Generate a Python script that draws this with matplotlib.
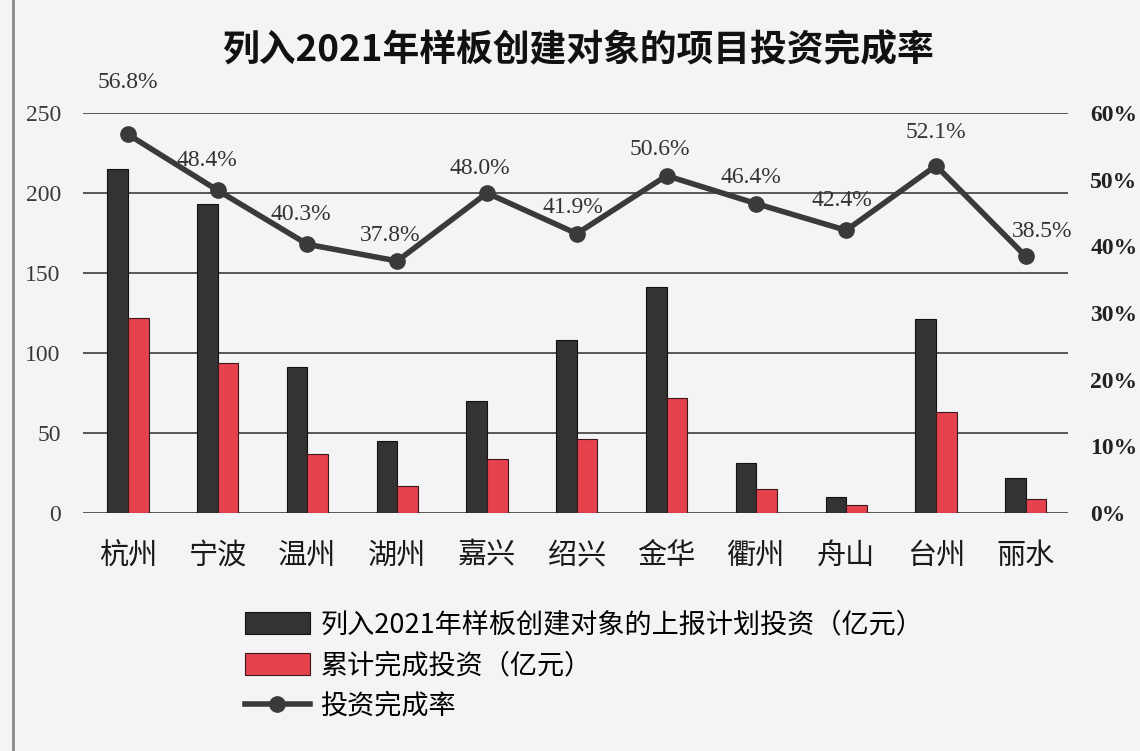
import numpy as np
import matplotlib.pyplot as plt
from matplotlib.ticker import FuncFormatter

# ============================================================
# Data
# ============================================================
cities = ["杭州", "宁波", "温州", "湖州", "嘉兴", "绍兴", "金华", "衢州", "舟山", "台州", "丽水"]
planned = [215, 193, 91, 45, 70, 108, 141, 31, 10, 121, 22]
completed = [122, 94, 37, 17, 34, 46, 72, 15, 5, 63, 9]
rate = [56.8, 48.4, 40.3, 37.8, 48.0, 41.9, 50.6, 46.4, 42.4, 52.1, 38.5]

# label offsets (points) for the rate annotations
label_offsets = [(0, 30), (-8, 14), (-5, 14), (-5, 11), (-5, 10), (-3, 11), (-5, 11), (-4, 11), (-3, 14), (0, 16), (12, 10)]

# ============================================================
# Style
# ============================================================
CJK = ["Noto Sans CJK SC", "DejaVu Sans"]
SERIF = ["Liberation Serif", "DejaVu Serif"]
BG = "#f4f4f6"
DARK = "#333333"
RED = "#e5424e"
GRID = "#4d4a48"

plt.rcParams["font.family"] = CJK

fig = plt.figure(figsize=(11.4, 7.51), dpi=100, facecolor=BG)
ax = fig.add_axes([0.0728, 0.317, 0.864, 0.5325])
ax.set_facecolor(BG)

x = np.arange(len(cities))
w = 0.23
ax.bar(x - w / 2, planned, w, color=DARK, edgecolor="#111111", linewidth=0.8,
       label="列入2021年样板创建对象的上报计划投资（亿元）", zorder=3)
ax.bar(x + w / 2, completed, w, color=RED, edgecolor="#3a1a1a", linewidth=0.8,
       label="累计完成投资（亿元）", zorder=3)

ax.set_ylim(0, 250)
ax.set_yticks(range(0, 251, 50))
ax.set_xlim(-0.5, 10.47)
ax.set_xticks(x)
ax.set_xticklabels(cities, fontsize=21, family=CJK, color="#1a1a1a")
ax.tick_params(axis="x", length=0, pad=20)
ax.tick_params(axis="y", length=0, pad=16)
for t in ax.get_yticklabels():
    t.set_family(SERIF)
    t.set_fontsize(17)
    t.set_color("#3a3a3a")
ax.grid(axis="y", color=GRID, linewidth=1.3, zorder=0)
for s in ax.spines.values():
    s.set_visible(False)

ax2 = ax.twinx()
ax2.set_ylim(0, 60)
ax2.set_yticks(range(0, 61, 10))
ax2.yaxis.set_major_formatter(FuncFormatter(lambda v, p: f"{v:.0f}%"))
ax2.tick_params(axis="y", length=0, pad=16)
for t in ax2.get_yticklabels():
    t.set_family(SERIF)
    t.set_fontsize(17)
    t.set_fontweight("bold")
    t.set_color("#222222")
for s in ax2.spines.values():
    s.set_visible(False)

ax2.plot(x, rate, color="#3a3a3a", linewidth=4, marker="o", markersize=11,
         label="投资完成率", zorder=5)
for xi, r, off in zip(x, rate, label_offsets):
    ax2.annotate(f"{r:.1f}%", (xi, r), xytext=off, textcoords="offset points",
                 ha="center", va="bottom", fontsize=17, family=SERIF, color="#333333")

fig.text(0.508, 0.933, "列入2021年样板创建对象的项目投资完成率", ha="center", va="center",
         fontsize=26.5, fontweight="bold", family=CJK, color="#111111")

# frame line of the scanned page
fig.add_artist(plt.Line2D([0.011, 0.011], [0, 1], color="#8a8a8a", linewidth=2,
                          transform=fig.transFigure))

h1, l1 = ax.get_legend_handles_labels()
h2, l2 = ax2.get_legend_handles_labels()
fig.legend(h1 + h2, l1 + l2, loc="upper left", bbox_to_anchor=(0.205, 0.2),
           frameon=False, fontsize=19.5, handlelength=2.4, handleheight=0.85,
           handletextpad=0.4, labelspacing=0.5, borderaxespad=0,
           bbox_transform=fig.transFigure)

fig.savefig("out.png", dpi=100, facecolor=BG)
